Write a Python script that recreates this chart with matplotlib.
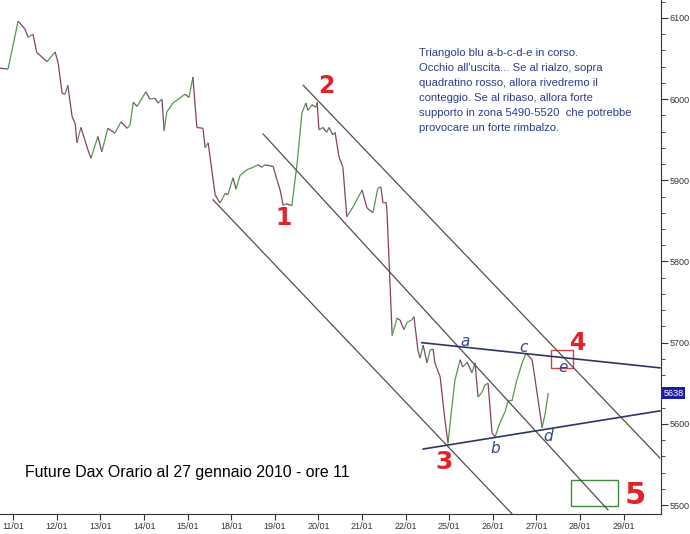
import matplotlib
matplotlib.use("Agg")
import matplotlib.pyplot as plt
from matplotlib.collections import LineCollection
from matplotlib.patches import Rectangle
import numpy as np

# Future DAX hourly, 11/01 - 27/01/2010 (x in trading days, 0 = 11/01)
day_labels = ["11/01", "12/01", "13/01", "14/01", "15/01", "18/01", "19/01", "20/01",
              "21/01", "22/01", "25/01", "26/01", "27/01", "28/01", "29/01"]

t = [-0.305, -0.12, 0.11, 0.27, 0.34, 0.45, 0.54, 0.61, 0.77, 0.96, 1.03, 1.12, 1.19, 1.25,
     1.35, 1.42, 1.46, 1.55, 1.64, 1.69, 1.78, 1.94, 2.03, 2.17, 2.33, 2.47, 2.61, 2.68,
     2.75, 2.84, 3.04, 3.13, 3.25, 3.32, 3.41, 3.46, 3.52, 3.66, 3.94, 4.03, 4.12, 4.21,
     4.35, 4.40, 4.47, 4.63, 4.74, 4.86, 4.92, 5.04, 5.11, 5.20, 5.36, 5.50, 5.61, 5.70,
     5.77, 5.96, 6.05, 6.12, 6.19, 6.25, 6.39, 6.51, 6.62, 6.71, 6.76, 6.85, 6.94, 6.97,
     7.01, 7.10, 7.19, 7.24, 7.33, 7.38, 7.47, 7.56, 7.65, 7.79, 8.00, 8.11, 8.25, 8.36,
     8.43, 8.48, 8.55, 8.57, 8.69, 8.80, 8.87, 8.96, 9.03, 9.14, 9.19, 9.28, 9.33, 9.40,
     9.49, 9.56, 9.63, 9.67, 9.79, 9.90, 9.97, 10.06, 10.13, 10.25, 10.31, 10.41, 10.52,
     10.59, 10.66, 10.75, 10.82, 10.89, 10.98, 11.05, 11.16, 11.28, 11.35, 11.44, 11.55,
     11.67, 11.76, 11.90, 11.97, 12.13, 12.20, 12.27]
price = [6038, 6037, 6096, 6086, 6076, 6080, 6057, 6054, 6046, 6058, 6044, 6007, 6006, 6017,
         5978, 5970, 5946, 5965, 5950, 5941, 5927, 5954, 5935, 5964, 5958, 5972, 5964, 5968,
         5996, 5991, 6009, 6000, 6001, 5995, 6000, 5961, 5984, 5995, 6006, 6002, 6027, 5965,
         5964, 5940, 5946, 5882, 5872, 5884, 5882, 5903, 5889, 5906, 5913, 5916, 5919, 5916,
         5919, 5917, 5900, 5888, 5869, 5871, 5869, 5921, 5983, 5995, 5986, 5993, 5990, 5996,
         5962, 5965, 5959, 5965, 5956, 5959, 5929, 5916, 5855, 5867, 5888, 5866, 5860, 5890,
         5892, 5872, 5873, 5863, 5709, 5730, 5728, 5716, 5725, 5728, 5732, 5691, 5681, 5697,
         5675, 5691, 5692, 5675, 5658, 5605, 5576, 5621, 5654, 5679, 5670, 5676, 5663,
         5675, 5633, 5639, 5648, 5650, 5589, 5584, 5601, 5615, 5629, 5629, 5654,
         5675, 5687, 5679, 5654, 5595, 5613, 5638]
last_price = 5638

# trend channel (three parallels) and the a-b-c-d-e triangle
channel_top = [(6.65, 6017), (14.83, 5558)]
channel_mid = [(5.73, 5957), (13.64, 5494)]
channel_low = [(4.58, 5876), (11.46, 5488)]
tri_top = [(9.37, 5700), (14.83, 5669)]
tri_low = [(9.40, 5569), (14.83, 5616)]
red_box = (12.33, 5669, 0.51, 22)      # x, y, w, h
green_box = (12.79, 5499, 1.08, 32)

wave_labels = ["1", "2", "3", "4", "5"]
wave_pos = [(6.19, 5854), (7.19, 6016), (9.88, 5553), (12.95, 5700), (14.26, 5512)]
wave_size = [17, 17, 18, 17, 22]
abc_labels = ["a", "b", "c", "d", "e"]
abc_pos = [(10.36, 5702), (11.05, 5570), (11.71, 5694), (12.26, 5584), (12.61, 5670)]

note = ("Triangolo blu a-b-c-d-e in corso.\n"
        "Occhio all'uscita... Se al rialzo, sopra\n"
        "quadratino rosso, allora rivedremo il\n"
        "conteggio. Se al ribaso, allora forte\n"
        "supporto in zona 5490-5520  che potrebbe\n"
        "provocare un forte rimbalzo.")
title = "Future Dax Orario al 27 gennaio 2010 - ore 11"

plt.rcParams["font.family"] = ["Liberation Sans", "DejaVu Sans"]
fig = plt.figure(figsize=(6.9, 5.34), dpi=100)
ax = fig.add_axes([0, 20 / 534, 661 / 690, 514 / 534])
ax.set_xlim(-0.305, 14.856)
ax.set_ylim(5489, 6122)

# price line: green when rising, purple when falling
pts = np.column_stack([t, price])
segs = np.stack([pts[:-1], pts[1:]], axis=1)
cols = ["#4f9a4f" if b >= a else "#8c3d66" for a, b in zip(price[:-1], price[1:])]
ax.add_collection(LineCollection(segs, colors=cols, linewidths=0.9))

for ln in (channel_top, channel_mid, channel_low):
    (x0, y0), (x1, y1) = ln
    ax.plot([x0, x1], [y0, y1], color="#5c4a4a", lw=0.9)
for ln in (tri_top, tri_low):
    (x0, y0), (x1, y1) = ln
    ax.plot([x0, x1], [y0, y1], color="#2c3766", lw=1.2)

ax.add_patch(Rectangle(red_box[:2], red_box[2], red_box[3], fill=False,
                       ec="#cc4444", lw=1.0))
ax.add_patch(Rectangle(green_box[:2], green_box[2], green_box[3], fill=False,
                       ec="#3f8a3f", lw=1.0))

for lab, (x, y), s in zip(wave_labels, wave_pos, wave_size):
    ax.text(x, y, lab, color="#e3222c", fontsize=s, fontweight="bold",
            ha="center", va="center", family="DejaVu Sans")
for lab, (x, y) in zip(abc_labels, abc_pos):
    ax.text(x, y, lab, color="#33448a", fontsize=11, style="italic",
            ha="center", va="center", family="DejaVu Sans")

ax.text(419 / 661, 1 - 48 / 514, note, transform=ax.transAxes, color="#2e3c8c",
        fontsize=8.1, linespacing=1.62, va="top", ha="left")
fig.text(25 / 690, 1 - 473 / 534, title, fontsize=11.4, color="black", va="center")

# axes styling
for s in ("top", "left"):
    ax.spines[s].set_visible(False)
ax.spines["right"].set_color("#333333")
ax.spines["bottom"].set_color("#333333")
ax.yaxis.tick_right()
ax.set_yticks(np.arange(5500, 6101, 100))
ax.set_yticks(np.arange(5500, 6121, 20), minor=True)
ax.tick_params(axis="y", which="major", length=5, labelsize=6.5, colors="#333333", pad=1)
ax.tick_params(axis="y", which="minor", length=3, colors="#333333")
ax.set_xticks(range(len(day_labels)))
ax.set_xticklabels(day_labels)
ax.tick_params(axis="x", length=4, labelsize=6.5, colors="#333333", pad=2)

ax.text(1.004, (last_price - 5489) / (6122 - 5489), str(last_price), transform=ax.transAxes,
        fontsize=6.5, color="white", va="center", ha="left",
        bbox=dict(boxstyle="square,pad=0.15", fc="#1c1ca8", ec="none"))

fig.savefig("out.png", dpi=100)
